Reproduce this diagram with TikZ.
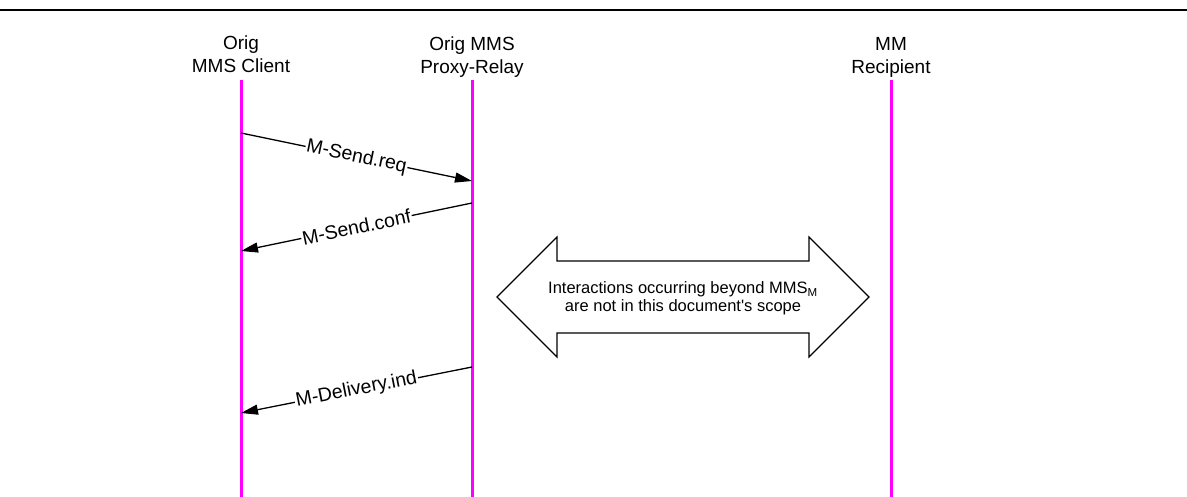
\documentclass[tikz,border=0pt]{standalone}
\usepackage{fontspec}
\setmainfont{Liberation Sans}
\usetikzlibrary{arrows.meta}
\usepackage{xcolor}
\definecolor{lifemagenta}{RGB}{255,0,255}

\begin{document}
\begin{tikzpicture}[x=1pt, y=-1pt,
		head/.style={anchor=south, align=center, inner sep=0pt, font=\fontsize{19}{23.5}\selectfont},
		life/.style={lifemagenta, line width=3pt},
		msg/.style={line width=1.3pt, -{Triangle[length=17pt, width=10pt]}},
		lbl/.style={sloped, fill=white, inner sep=1pt, font=\fontsize{19.5}{23.5}\selectfont}]
		\useasboundingbox (0,0) rectangle (1187,497);
		\draw[line width=2.5pt] (0,10) -- (1187,10);
		
		\node[head] (client) at (241,73) {Orig\\MMS Client};
		\node[head] (relay) at (472,78) {Orig MMS\\Proxy-Relay};
		\node[head] (recip) at (891,78) {MM\\Recipient};
		
		\coordinate (clientTop) at (241,80);
		\coordinate (clientBot) at (241,497);
		\coordinate (relayTop) at (472,80);
		\coordinate (relayBot) at (472,497);
		\coordinate (recipTop) at (891,80);
		\coordinate (recipBot) at (891,497);
		\draw[life] (clientTop) -- (clientBot);
		\draw[life] (relayTop) -- (relayBot);
		\draw[life] (recipTop) -- (recipBot);
		
		\coordinate (reqA) at (241,133);
		\coordinate (reqB) at (472,181);
		\coordinate (confA) at (472,203);
		\coordinate (confB) at (241,251);
		\coordinate (indA) at (472,367);
		\coordinate (indB) at (241,413);
		\draw[msg] (reqA) -- node[lbl] (req) {M-Send.req} (reqB);
		\draw[msg] (confA) -- node[lbl] (conf) {M-Send.conf} (confB);
		\draw[msg] (indA) -- node[lbl] (ind) {M-Delivery.ind} (indB);
		
		\draw[line width=1.2pt, line join=miter] (497,297) -- (557,237) -- (557,261) -- (809,261) -- (809,237) -- (869,297)
			-- (809,357) -- (809,333) -- (557,333) -- (557,357) -- cycle;
		\node[align=center, font=\fontsize{16.5}{17.5}\selectfont] (beyond) at (683,298)
			{Interactions occurring beyond MMS\textsubscript{M}\\are not in this document\textquotesingle s scope};
	\end{tikzpicture}
\end{document}
